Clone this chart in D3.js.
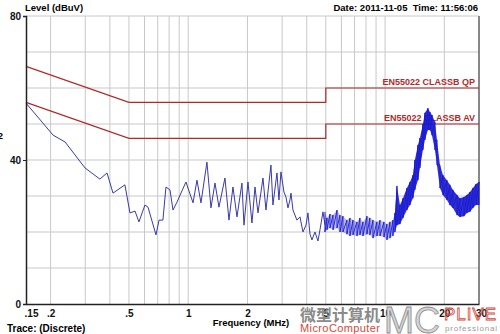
<!DOCTYPE html>
<html>
<head>
<meta charset="utf-8">
<script src="https://cdn.jsdelivr.net/npm/d3@7"></script>
<style>
  body { margin: 0; background: #fff; }
  svg { display: block; font-family: "Liberation Sans", Arial, sans-serif; }
</style>
</head>
<body>
<svg id="chart" width="500" height="334"></svg>
<script>
// frequency axis (MHz)
const tickFreqs = [0.15, 0.2, 0.5, 1, 2, 5, 10, 20, 30];
const tickNames = [".15", ".2", ".5", "1", "2", "5", "10", "20", "30"];
const gridFreqs = [0.2, 0.3, 0.4, 0.5, 0.6, 0.7, 0.8, 0.9, 1, 2, 3, 4, 5, 6, 7, 8, 9, 10, 20];
const levelTicks = [0, 40, 80];
const gridLevels = [10, 20, 30, 40, 50, 60, 70];

// EN55022 class B limits
const limitFreqs = [0.15, 0.5, 5, 5, 30];
const qpLimit = [66, 56, 56, 60, 60];
const avLimit = [56, 46, 46, 50, 50];

// measured trace, 0.15 - 5 MHz
const traceLow = [
  [0.15, 55.8], [0.206, 46.9], [0.237, 45.0], [0.299, 37.8], [0.356, 34.7], [0.387, 36.4],
  [0.415, 30.8], [0.477, 33.1], [0.506, 25.3], [0.537, 25.8], [0.562, 22.8], [0.603, 27.5],
  [0.625, 26.9], [0.686, 19.2], [0.711, 23.3], [0.744, 23.3], [0.771, 32.5], [0.808, 31.7],
  [0.837, 26.1], [0.877, 28.3], [0.974, 33.9], [1.058, 28.1], [1.108, 34.4], [1.161, 28.1],
  [1.245, 39.4], [1.305, 26.7], [1.368, 33.6], [1.433, 26.9], [1.537, 35.0], [1.611, 23.3],
  [1.688, 32.5], [1.769, 24.2], [1.875, 33.6], [1.920, 21.9], [2.012, 33.9], [2.108, 22.5],
  [2.184, 32.5], [2.262, 25.3], [2.398, 35.0], [2.483, 26.1], [2.632, 38.6], [2.694, 27.5],
  [2.824, 36.4], [2.891, 28.9], [2.959, 36.7], [3.065, 31.1], [3.138, 29.7], [3.212, 26.7],
  [3.288, 28.9], [3.327, 30.8], [3.405, 26.1], [3.567, 23.3], [3.696, 24.2], [3.828, 20.0],
  [3.964, 21.9], [4.058, 25.3], [4.155, 19.4], [4.252, 17.8], [4.404, 20.0], [4.562, 17.5],
  [4.670, 20.6], [4.836, 25.6], [4.95, 22.0]
];

// measured trace above 5 MHz: dense noise, read as upper / lower envelope
const bandFreqs = [4.95, 5.07, 5.25, 5.44, 5.70, 5.90, 6.11, 6.40, 6.63, 6.87, 7.20, 7.45, 7.72,
  8.09, 8.37, 8.68, 9.09, 9.42, 9.87, 10.22, 10.59, 10.96, 11.22, 11.49, 11.90, 12.33, 12.91,
  13.38, 13.85, 14.17, 14.69, 15.03, 15.57, 15.94, 16.51, 16.9, 17.30, 17.92, 18.34, 19.0,
  19.68, 20.61, 21.35, 22.12, 23.2, 24.0, 25.15, 26.05, 26.98, 27.94, 28.95, 30];
const bandHigh = [25.6, 23.9, 25.0, 24.7, 26.1, 24.7, 24.4, 23.3, 23.9, 23.3, 22.8, 23.9, 22.8,
  24.4, 23.9, 23.3, 22.8, 23.3, 22.8, 22.2, 22.8, 23.3, 25.3, 32.8, 27.5, 29.4, 32.2,
  33.9, 35.8, 40.0, 44.2, 46.1, 50.0, 53.1, 54.4, 53.3, 52.5, 50.6, 45.6, 38.6,
  35.8, 34.4, 33.1, 31.7, 30.3, 29.4, 29.7, 30.3, 31.1, 32.2, 33.3, 33.9];
const bandLow = [20.0, 20.6, 21.1, 20.6, 21.1, 20.0, 20.0, 19.4, 18.9, 19.2, 18.9, 19.2, 18.9,
  19.4, 19.2, 18.3, 18.9, 18.9, 18.6, 17.8, 18.3, 18.9, 20.0, 21.9, 22.2, 23.9, 26.1,
  27.5, 29.4, 31.7, 34.4, 37.8, 42.8, 45.6, 48.3, 48.3, 46.9, 42.8, 38.6, 32.2,
  30.3, 28.9, 27.5, 26.7, 24.7, 24.2, 24.4, 25.3, 25.6, 26.7, 27.5, 27.5];

const svg = d3.select("#chart");
const x = d3.scaleLog().domain([0.15, 30]).range([26, 479]);
const y = d3.scaleLinear().domain([0, 80]).range([304, 16]);

const red = "#b02a2a";
const blue = "#1a1ad0";

// grid
svg.append("g").selectAll("line")
  .data(gridFreqs)
  .enter()
  .append("line")
  .attr("x1", d => x(d)).attr("x2", d => x(d))
  .attr("y1", y(80)).attr("y2", y(0))
  .attr("stroke", "#c8c8c8").attr("stroke-width", 1);

svg.append("g").selectAll("line")
  .data(gridLevels.concat([80]))
  .enter()
  .append("line")
  .attr("x1", x(0.15)).attr("x2", x(30))
  .attr("y1", d => y(d)).attr("y2", d => y(d))
  .attr("stroke", "#c8c8c8").attr("stroke-width", 1);

// right border
svg.append("line")
  .attr("x1", x(30)).attr("x2", x(30))
  .attr("y1", y(80)).attr("y2", y(0))
  .attr("stroke", "#606060").attr("stroke-width", 1.5);

// limit lines
const limitLine = d3.line().x(d => x(d[0])).y(d => y(d[1]));
[qpLimit, avLimit].forEach(vals => {
  svg.append("path")
    .attr("d", limitLine(limitFreqs.map((f, i) => [f, vals[i]])))
    .attr("fill", "none")
    .attr("stroke", red)
    .attr("stroke-width", 1.2);
});

svg.append("text")
  .attr("x", x(30) - 4).attr("y", y(60) - 3)
  .attr("text-anchor", "end")
  .attr("font-size", 9).attr("font-weight", "bold")
  .attr("fill", red)
  .text("EN55022 CLASSB QP");
svg.append("text")
  .attr("x", x(30) - 4).attr("y", y(50) - 3)
  .attr("text-anchor", "end")
  .attr("font-size", 9).attr("font-weight", "bold")
  .attr("fill", red)
  .text("EN55022 CLASSB AV");

// trace
svg.append("path")
  .attr("d", d3.line().x(d => x(d[0])).y(d => y(d[1]))(traceLow))
  .attr("fill", "none")
  .attr("stroke", "#3a3aa8")
  .attr("stroke-width", 1);

const band = bandFreqs.map((f, i) => ({f: f, hi: bandHigh[i], lo: bandLow[i]}));
const area = d3.area().x(d => x(d.f)).y0(d => y(d.lo)).y1(d => y(d.hi));
svg.append("path")
  .attr("d", area(band.filter(d => d.f <= 11.3)))
  .attr("fill", blue).attr("fill-opacity", 0.3);
svg.append("path")
  .attr("d", area(band.filter(d => d.f >= 11.2)))
  .attr("fill", blue).attr("fill-opacity", 0.9);

const zig = [];
band.forEach(d => { zig.push([d.f, d.hi]); zig.push([d.f, d.lo]); });
svg.append("path")
  .attr("d", d3.line().x(d => x(d[0])).y(d => y(d[1]))(zig))
  .attr("fill", "none")
  .attr("stroke", blue)
  .attr("stroke-width", 0.9);

// axes
const xAxis = svg.append("g")
  .attr("transform", `translate(0,${y(0)})`)
  .call(d3.axisBottom(x).tickValues(tickFreqs).tickFormat((d, i) => tickNames[i]).tickSize(0).tickPadding(6));
xAxis.select(".domain").attr("stroke", "#222").attr("stroke-width", 1.5);
xAxis.selectAll("text")
  .attr("font-size", 10).attr("font-weight", "bold")
  .attr("font-family", "Liberation Sans, Arial, sans-serif")
  .attr("fill", "#111")
  .attr("dx", (d, i) => i === 0 ? 5 : (i === 8 ? 2 : 0));

const yAxis = svg.append("g")
  .attr("transform", `translate(${x(0.15)},0)`)
  .call(d3.axisLeft(y).tickValues(levelTicks).tickSize(3).tickPadding(2));
yAxis.select(".domain").attr("stroke", "#222").attr("stroke-width", 1.5);
yAxis.selectAll("line").attr("stroke", "#222");
yAxis.selectAll("text")
  .attr("font-size", 10).attr("font-weight", "bold")
  .attr("font-family", "Liberation Sans, Arial, sans-serif")
  .attr("fill", "#111");

svg.append("text")
  .attr("x", 3).attr("y", 139)
  .attr("text-anchor", "end")
  .attr("font-size", 9).attr("font-weight", "bold")
  .text("2");

// titles
svg.append("text")
  .attr("x", 25).attr("y", 11)
  .attr("font-size", 9.5).attr("font-weight", "bold")
  .text("Level (dBuV)");
svg.append("text")
  .attr("x", 478).attr("y", 11)
  .attr("text-anchor", "end")
  .attr("font-size", 9.5).attr("font-weight", "bold")
  .attr("xml:space", "preserve")
  .text("Date: 2011-11-05  Time: 11:56:06");
svg.append("text")
  .attr("x", 251).attr("y", 326)
  .attr("text-anchor", "middle")
  .attr("font-size", 9.5).attr("font-weight", "bold")
  .text("Frequency (MHz)");
svg.append("text")
  .attr("x", 7).attr("y", 332)
  .attr("font-size", 10).attr("font-weight", "bold")
  .text("Trace: (Discrete)");

// watermark
svg.append("text")
  .attr("x", 300).attr("y", 321)
  .attr("font-family", "Noto Sans CJK SC")
  .attr("font-size", 16).attr("font-weight", "bold")
  .attr("fill", "#8a8a8a")
  .text("微型计算机");
svg.append("text")
  .attr("x", 300).attr("y", 332)
  .attr("font-size", 11)
  .attr("fill", "#d04a3a")
  .attr("textLength", 80)
  .text("MicroComputer");
svg.append("text")
  .attr("x", 384).attr("y", 333)
  .attr("font-size", 36)
  .attr("fill", "#d4d4d4")
  .attr("stroke", "#8c8c8c")
  .attr("stroke-width", 0.8)
  .text("MC");
svg.append("text")
  .attr("x", 444).attr("y", 320)
  .attr("font-size", 17)
  .attr("fill", "none")
  .attr("stroke", "#d04a3a")
  .attr("stroke-width", 0.8)
  .attr("textLength", 52)
  .text("PLIVE");
svg.append("text")
  .attr("x", 445).attr("y", 331)
  .attr("font-size", 8)
  .attr("fill", "#999")
  .attr("letter-spacing", 0.8)
  .text("professional");
</script>
</body>
</html>
